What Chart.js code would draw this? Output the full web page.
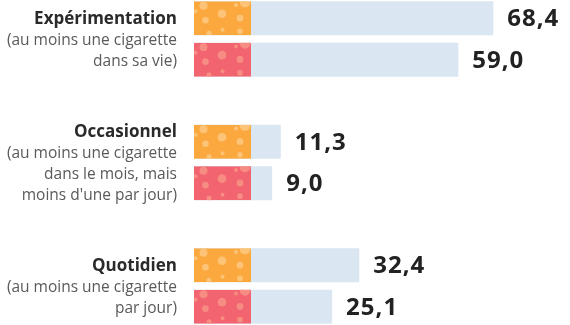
<!DOCTYPE html>
<html lang="fr">
<head>
<meta charset="utf-8">
<script src="https://cdn.jsdelivr.net/npm/chart.js@4.4.1/dist/chart.umd.min.js"></script>
<style>
  html, body { margin: 0; padding: 0; background: #fff; overflow: hidden; }
  #wrap { width: 570px; height: 325px; position: relative; }
</style>
</head>
<body>
<div id="wrap"><canvas id="chart"></canvas></div>
<script>
/* data */
const categories = ["Expérimentation", "Occasionnel", "Quotidien"];
const details = [
  ["(au moins une cigarette", "dans sa vie)"],
  ["(au moins une cigarette", "dans le mois, mais", "moins d'une par jour)"],
  ["(au moins une cigarette", "par jour)"]
];
const values2014 = [68.4, 11.3, 32.4];
const values2017 = [59.0, 9.0, 25.1];

/* look */
const FONT = "'Open Sans', 'DejaVu Sans', sans-serif";
const X_MIN = -12;
const FILTER_W = 57;
// light spots on the filter tip: [dx, dy, r]
const SPOTS = [
  [1.5, 10, 2], [9.5, 4.5, 4], [11.5, 19, 3.3], [15, 32, 2.5], [28, 12.5, 4.3],
  [28.6, 28.5, 2], [42, 3.8, 2], [46, 16.8, 3.4], [46, 30, 2.8], [51, 0.5, 5.5]
];

function fmt(v){ return v.toFixed(1).replace(".", ","); }

/* filter tip + value labels + category labels */
const cigarette = {
  id: "cigarette",
  afterDatasetsDraw(chart){
    const ctx = chart.ctx;
    chart.data.datasets.forEach((ds, di) => {
      const meta = chart.getDatasetMeta(di);
      meta.data.forEach((bar, i) => {
        const p = bar.getProps(["x", "y", "base", "height"], true);
        const top = p.y - p.height / 2;
        ctx.save();
        ctx.beginPath();
        ctx.rect(p.base, top, FILTER_W, p.height);
        ctx.clip();
        ctx.fillStyle = ds.tipColor;
        ctx.fillRect(p.base, top, FILTER_W, p.height);
        ctx.fillStyle = ds.spotColor;
        SPOTS.forEach(([dx, dy, r]) => {
          ctx.beginPath();
          ctx.arc(p.base + dx, top + dy, r, 0, Math.PI * 2);
          ctx.fill();
        });
        ctx.restore();

        ctx.save();
        ctx.fillStyle = "#222";
        ctx.font = "bold 24px " + FONT;
        ctx.letterSpacing = "1px";
        ctx.textAlign = "left";
        ctx.textBaseline = "middle";
        ctx.fillText(fmt(ds.data[i]), p.x + 14, p.y + 1);
        ctx.restore();
      });
    });

    const y = chart.scales.y;
    categories.forEach((c, i) => {
      const lines = [c].concat(details[i]);
      const cy = y.getPixelForValue(i);
      let base = cy + 6 - (lines.length - 1) * 10.5;
      ctx.save();
      ctx.textAlign = "right";
      ctx.textBaseline = "alphabetic";
      lines.forEach((t, k) => {
        if(k === 0){
          ctx.font = "bold 17px " + FONT;
          ctx.fillStyle = "#2a2a2a";
        } else {
          ctx.font = "15.5px " + FONT;
          ctx.fillStyle = "#5a5a5a";
        }
        ctx.fillText(t, 177, base + k * 21);
      });
      ctx.restore();
    });
  }
};

new Chart(document.getElementById("chart"), {
  type: "bar",
  data: {
    labels: categories,
    datasets: [
      {
        label: "2014",
        data: values2014,
        backgroundColor: "#dae6f1",
        tipColor: "#fba93f",
        spotColor: "rgba(253, 205, 140, 0.75)",
        base: X_MIN,
        clip: false
      },
      {
        label: "2017",
        data: values2017,
        backgroundColor: "#dae6f1",
        tipColor: "#f2646f",
        spotColor: "rgba(247, 150, 135, 0.8)",
        base: X_MIN,
        clip: false
      }
    ]
  },
  options: {
    indexAxis: "y",
    responsive: true,
    maintainAspectRatio: false,
    animation: false,
    categoryPercentage: 0.67,
    barPercentage: 0.823,
    layout: { padding: { left: 194, right: 0, top: 39, bottom: 39 } },
    plugins: { legend: { display: false }, tooltip: { enabled: false } },
    scales: {
      x: { display: false, min: X_MIN, max: 89 },
      y: { display: false, offset: false }
    }
  },
  plugins: [cigarette]
});
</script>
</body>
</html>
